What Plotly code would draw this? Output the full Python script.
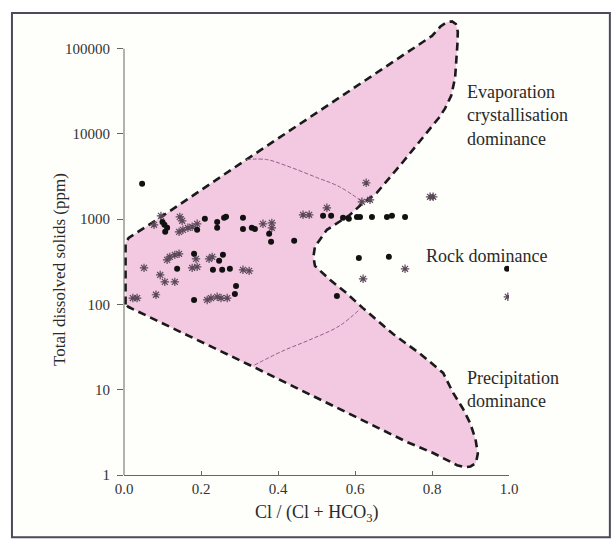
import numpy as np
import plotly.graph_objects as go

# Samples: filled circles
dot_x = [0.047, 0.100, 0.105, 0.112, 0.107, 0.190, 0.210, 0.242, 0.242, 0.260,
         0.265, 0.309, 0.309, 0.332, 0.340, 0.377, 0.382, 0.442, 0.138, 0.182,
         0.247, 0.257, 0.231, 0.255, 0.275, 0.291, 0.288, 0.182, 0.517, 0.538,
         0.569, 0.584, 0.605, 0.613, 0.644, 0.683, 0.696, 0.730, 0.610, 0.688,
         0.995, 0.553]
dot_tds = [2600, 930, 860, 795, 715, 750, 1010, 930, 795, 1040,
           1070, 1040, 770, 795, 770, 675, 545, 560, 262, 393,
           325, 382, 255, 255, 262, 165, 133, 113, 1095, 1095,
           1040, 1010, 1065, 1065, 1065, 1065, 1095, 1065, 352, 362,
           262, 126]

# Samples: asterisks
star_x = [0.096, 0.145, 0.151, 0.078, 0.143, 0.153, 0.166, 0.177, 0.190, 0.361,
          0.384, 0.384, 0.112, 0.119, 0.132, 0.143, 0.052, 0.094, 0.106, 0.132,
          0.083, 0.023, 0.034, 0.177, 0.190, 0.221, 0.229, 0.309, 0.325, 0.216,
          0.226, 0.242, 0.252, 0.268, 0.465, 0.481, 0.527, 0.629, 0.618, 0.639,
          0.795, 0.803, 0.730, 0.621, 0.997, 0.187]
star_tds = [1095, 1065, 958, 860, 711, 751, 793, 815, 883, 883,
            907, 793, 334, 362, 382, 393, 269, 222, 184, 184,
            130, 119, 119, 269, 276, 343, 362, 255, 248, 113,
            119, 123, 119, 119, 1127, 1127, 1361, 2675, 1600, 1690,
            1832, 1832, 262, 200, 123, 343]

# Gibbs envelope outline (x, log10 TDS)
env_x = [0.004, 0.004, 0.012, 0.104, 0.318, 0.696, 0.800, 0.822, 0.838, 0.852,
         0.862, 0.867, 0.866, 0.860, 0.850, 0.834, 0.818, 0.725, 0.656, 0.621,
         0.587, 0.527, 0.496, 0.492, 0.496, 0.535, 0.578, 0.620, 0.700, 0.770,
         0.829, 0.855, 0.880, 0.899, 0.913, 0.919, 0.914, 0.900, 0.885, 0.865,
         0.803, 0.735, 0.339, 0.012, 0.004]
env_logtds = [2.00, 2.72, 2.78, 3.05, 3.70, 4.83, 5.15, 5.26, 5.31, 5.32,
              5.29, 5.20, 5.05, 4.66, 4.45, 4.30, 4.19, 3.674, 3.306, 3.192,
              3.052, 2.876, 2.680, 2.559, 2.453, 2.289, 2.133, 1.96, 1.65, 1.42,
              1.197, 0.962, 0.78, 0.61, 0.42, 0.25, 0.14, 0.10, 0.09, 0.115,
              0.258, 0.387, 1.262, 1.97, 2.00]

# Internal field boundaries
upper_div_x = [0.318, 0.37, 0.42, 0.50, 0.56, 0.621]
upper_div_logtds = [3.70, 3.70, 3.63, 3.49, 3.38, 3.20]
lower_div_x = [0.339, 0.41, 0.49, 0.56, 0.614]
lower_div_logtds = [1.29, 1.45, 1.60, 1.75, 1.95]

x_ticks = [0.0, 0.2, 0.4, 0.6, 0.8, 1.0]
x_ticktext = ["0.0", "0.2", "0.4", "0.6", "0.8", "1.0"]
y_ticks = [1, 10, 100, 1000, 10000, 100000]
y_ticktext = ["1", "10", "100", "1000", "10000", "100000"]

SERIF = "Liberation Serif, Times New Roman, serif"
Y_TOP = 5.36
STAR_COLOR = "#5a4858"

fig = go.Figure()

fig.add_trace(go.Scatter(
    x=env_x, y=[10 ** v for v in env_logtds], mode="lines", fill="toself",
    fillcolor="#f2c9e1", line=dict(color="#1a1a1a", width=2.6, dash="8px,5px"),
    hoverinfo="skip", showlegend=False))

for xs, ls in [(upper_div_x, upper_div_logtds), (lower_div_x, lower_div_logtds)]:
    fig.add_trace(go.Scatter(
        x=xs, y=[10 ** v for v in ls], mode="lines", line_shape="spline",
        line=dict(color="#9a5a8e", width=1, dash="4px,2px"),
        hoverinfo="skip", showlegend=False))

fig.add_trace(go.Scatter(
    x=star_x, y=star_tds, mode="markers",
    marker=dict(symbol="asterisk-open", size=7, color=STAR_COLOR,
                line=dict(color=STAR_COLOR, width=1.2)),
    showlegend=False))

fig.add_trace(go.Scatter(
    x=dot_x, y=dot_tds, mode="markers",
    marker=dict(symbol="circle", size=6, color="#111111"),
    showlegend=False))

# outer frame
fig.add_shape(type="rect", xref="paper", yref="paper",
              x0=-0.291, x1=1.262, y0=-0.136, y1=1.011,
              line=dict(color="#4a4a5e", width=2), fillcolor="#fefefb",
              layer="below")
# y axis line from 1 to 100000
fig.add_shape(type="line", xref="paper", yref="paper",
              x0=0, x1=0, y0=0, y1=5 / Y_TOP,
              line=dict(color="#666666", width=1))

label_font = dict(family=SERIF, size=18, color="#2a2a2a")
fig.add_annotation(x=0.886, y=4.63, text="Evaporation<br>crystallisation<br>dominance",
                   xanchor="left", yanchor="top", align="left", showarrow=False,
                   font=label_font)
fig.add_annotation(x=0.779, y=2.57, text="Rock dominance",
                   xanchor="left", yanchor="middle", showarrow=False, font=label_font)
fig.add_annotation(x=0.886, y=1.0, text="Precipitation<br>dominance",
                   xanchor="left", yanchor="middle", align="left", showarrow=False,
                   font=label_font)
fig.add_annotation(xref="paper", yref="paper", x=-0.197, y=0.45,
                   text="Total dissolved solids (ppm)", textangle=-90,
                   showarrow=False, font=dict(family=SERIF, size=17, color="#2a2a2a"))
fig.add_annotation(xref="paper", yref="paper", x=0.5, y=-0.085,
                   text="Cl / (Cl + HCO<sub>3</sub>)", yanchor="middle",
                   showarrow=False, font=dict(family=SERIF, size=18, color="#2a2a2a"))

fig.update_xaxes(range=[0, 1], tickvals=x_ticks, ticktext=x_ticktext,
                 showgrid=False, zeroline=False, showline=True,
                 linecolor="#666666", linewidth=1, ticks="inside", ticklen=4,
                 tickcolor="#666666", tickfont=dict(family=SERIF, size=15, color="#333333"))
fig.update_yaxes(type="log", range=[0, Y_TOP], tickvals=y_ticks, ticktext=y_ticktext,
                 showgrid=False, zeroline=False, showline=False,
                 ticks="outside", ticklen=6, tickcolor="#666666",
                 ticklabelstandoff=4,
                 tickfont=dict(family=SERIF, size=15, color="#333333"))

fig.update_layout(width=615, height=539,
                  margin=dict(l=124, r=106, t=18, b=64),
                  paper_bgcolor="white", plot_bgcolor="rgba(0,0,0,0)",
                  showlegend=False)

fig.write_html("out.html")
